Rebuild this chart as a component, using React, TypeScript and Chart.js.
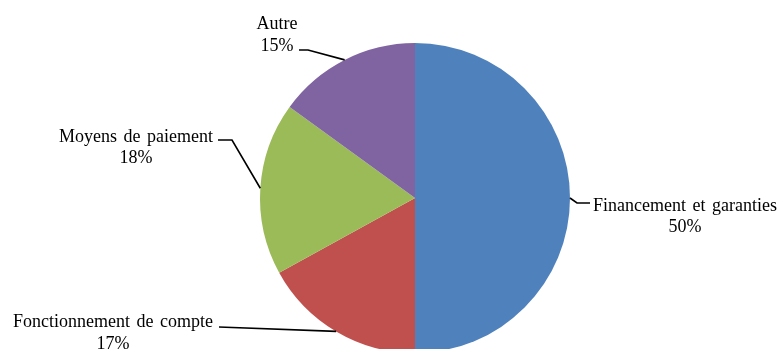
import React, { useEffect, useRef } from "react";
import { Chart, registerables } from "chart.js";

Chart.register(...registerables);

const categories = [
  "Financement et garanties",
  "Fonctionnement de compte",
  "Moyens de paiement",
  "Autre",
];
const values = [50, 17, 18, 15];
const colors = ["#4F81BD", "#C0504D", "#9BBB59", "#8064A2"];

// label placement, offsets relative to pie centre
const elbowOffsets = [[162, 5], [-196, 129], [-183, -58], [-107, -148]];
const lineEndOffsets = [[175, 5], [-196, 129], [-197, -58], [-116, -148]];
const textXOffsets = [178, -202, -202, -138];
const baselineOffsets = [12.7, 129, -56.5, -168.7];
const textAnchors = ["left", "right", "right", "center"];

const FONT = '18px "Liberation Serif", "Times New Roman", serif';
const LINE_HEIGHT = 21.5;

const labelPlugin = {
  id: "pieLabels",
  afterDraw(chart: any) {
    const ctx = chart.ctx;
    const meta = chart.getDatasetMeta(0);
    const total = values.reduce((a, b) => a + b, 0);
    ctx.save();
    ctx.font = FONT;
    try {
      (ctx as any).wordSpacing = "2px";
    } catch (e) {}
    ctx.fillStyle = "#000";
    ctx.strokeStyle = "#000";
    ctx.lineWidth = 1.6;
    meta.data.forEach((arc: any, i: number) => {
      const { x, y, startAngle, endAngle, outerRadius } = arc.getProps(
        ["x", "y", "startAngle", "endAngle", "outerRadius"],
        true
      );
      const mid = (startAngle + endAngle) / 2;
      const ex = x + Math.cos(mid) * outerRadius;
      const ey = y + Math.sin(mid) * outerRadius;
      ctx.beginPath();
      ctx.moveTo(ex, ey);
      ctx.lineTo(x + elbowOffsets[i][0], y + elbowOffsets[i][1]);
      ctx.lineTo(x + lineEndOffsets[i][0], y + lineEndOffsets[i][1]);
      ctx.stroke();

      const lines = [categories[i], Math.round((values[i] / total) * 100) + "%"];
      const w = Math.max(...lines.map((l) => ctx.measureText(l).width));
      let cx = x + textXOffsets[i];
      if (textAnchors[i] === "left") cx += w / 2;
      else if (textAnchors[i] === "right") cx -= w / 2;
      ctx.textAlign = "center";
      ctx.textBaseline = "alphabetic";
      lines.forEach((l, k) => {
        ctx.fillText(l, cx, y + baselineOffsets[i] + k * LINE_HEIGHT);
      });
    });
    ctx.restore();
  },
};

export default function App() {
  const ref = useRef<HTMLCanvasElement>(null);
  useEffect(() => {
    if (!ref.current) return;
    const chart = new Chart(ref.current, {
      type: "pie",
      data: {
        labels: categories,
        datasets: [
          {
            data: values,
            backgroundColor: colors,
            borderWidth: 0,
          },
        ],
      },
      options: {
        responsive: false,
        animation: false,
        layout: { padding: { left: 49, right: 0, top: 43, bottom: 47 } },
        plugins: { legend: { display: false }, tooltip: { enabled: false } },
      },
      plugins: [labelPlugin],
    });
    return () => chart.destroy();
  }, []);
  return (
    <div
      style={{
        position: "absolute",
        left: 0,
        top: 0,
        width: 781,
        height: 349,
        overflow: "hidden",
        background: "#fff",
      }}
    >
      <canvas ref={ref} width={781} height={400} style={{ display: "block" }} />
    </div>
  );
}
